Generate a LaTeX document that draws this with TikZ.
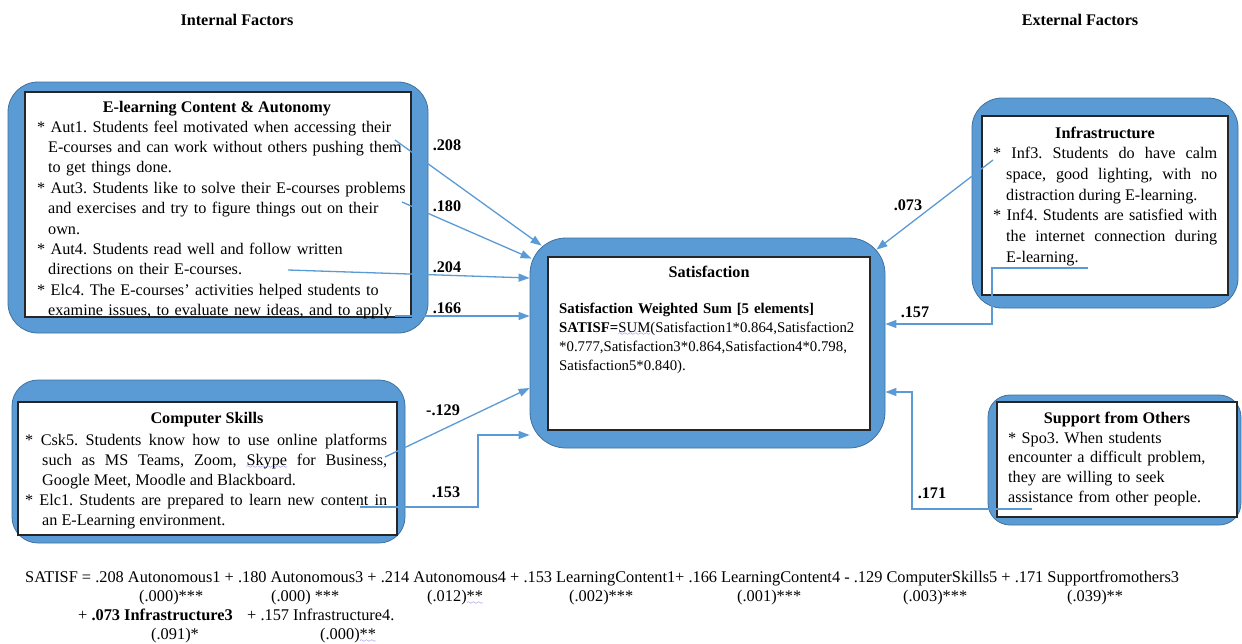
\documentclass[tikz,border=0pt]{standalone}
\usepackage{fontspec}
\setmainfont{Liberation Serif}
\usetikzlibrary{arrows.meta,positioning,calc}
\definecolor{boxblue}{HTML}{5B9BD5}
\definecolor{boxedge}{HTML}{41719C}
\definecolor{linkblue}{HTML}{5B9BD5}
\definecolor{squig}{HTML}{3A3AE0}
\frenchspacing

% item with hanging indent, wavy spell-check underline
\newcommand{\itm}[1]{\hangindent=#1\hangafter=1 *\ }
\font\wavyfont=lasy6
\newsavebox{\sqbox}
\newcommand{\sq}[1]{\sbox{\sqbox}{#1}\rlap{\lower3.5pt\hbox to\wd\sqbox{\color{squig}\xleaders\hbox{\wavyfont\char58}\hfil}}\usebox{\sqbox}}

\begin{document}
\begin{tikzpicture}[x=1pt,y=-1pt,
  outbox/.style={rectangle, rounded corners=#1, fill=boxblue, draw=boxedge, line width=0.8pt, inner sep=0pt},
  outbox/.default=30pt,
  inbox/.style={rectangle, fill=white, draw=black!85, line width=1.4pt, inner sep=0pt},
  head/.style={font=\fontsize{16.2}{20}\selectfont\bfseries, anchor=base, inner sep=0pt},
  body/.style={font=\fontsize{16.2}{#1}\selectfont, anchor=base west, inner sep=0pt, align=left},
  body/.default=20.5pt,
  wgt/.style={font=\fontsize{16.2}{20}\selectfont\bfseries, anchor=base, inner sep=0pt},
  link/.style={-{Triangle[length=11pt,width=8pt]}, line width=1.3pt, linkblue},
  eqn/.style={font=\fontsize{16.35}{19}\selectfont, anchor=base west, inner sep=0pt}
]
  \path[use as bounding box, fill=white] (0,0) rectangle (1242,643);

  \node[head] (intl) at (237,25) {Internal Factors};
  \node[head] (extl) at (1080,25) {External Factors};

  % boxes
  \node[outbox, minimum width=420pt, minimum height=251pt] (elc) at (218,207.5) {};
  \node[inbox, minimum width=386pt, minimum height=225pt] (elcIn) at (218,204.5) {};
  \node[outbox=36pt, minimum width=355pt, minimum height=210pt] (sat) at (707.5,343) {};
  \node[inbox, minimum width=322pt, minimum height=173pt] (satIn) at (709,343.5) {};
  \node[outbox, minimum width=266pt, minimum height=210pt] (inf) at (1105,203) {};
  \node[inbox, minimum width=246pt, minimum height=179pt] (infIn) at (1105,205.5) {};
  \node[outbox=26pt, minimum width=393pt, minimum height=163pt] (csk) at (208.5,461.5) {};
  \node[inbox, minimum width=379pt, minimum height=133pt] (cskIn) at (207.5,468.5) {};
  \node[outbox=22pt, minimum width=253pt, minimum height=130pt] (spo) at (1114.5,460) {};
  \node[inbox, minimum width=240pt, minimum height=115pt] (spoIn) at (1117,459.5) {};

  % titles
  \node[head] (elcHead) at (217,112) {E-learning Content \& Autonomy};
  \node[head] (satHead) at (709,277) {Satisfaction};
  \node[head] (infHead) at (1105,138) {Infrastructure};
  \node[head] (cskHead) at (207,423) {Computer Skills};
  \node[head] (spoHead) at (1117,423) {Support from Others};

  % texts
  \node[body=20.4pt, text width=372pt] (elcTxt) at (37,132) {%
    \itm{11pt}Aut1. Students feel motivated when accessing their\newline E-courses and can work without others pushing them\newline to get things done.\par
    \itm{11pt}Aut3. Students like to solve their E-courses problems\newline and exercises and try to figure things out on their\newline own.\par
    \itm{11pt}Aut4. Students read well and follow written\newline directions on their E-courses.\par
    \itm{11pt}Elc4. The E-courses’ activities helped students to\newline examine issues, to evaluate new ideas, and to apply\par};
  \node[body=19pt, font=\fontsize{14.8}{19}\selectfont, text width=320pt] (satTxt) at (559,313) {%
    \textbf{Satisfaction Weighted Sum [5 elements]}\newline
    \textbf{SATISF=}\sq{SUM}(Satisfaction1*0.864,Satisfaction2\newline
    *0.777,Satisfaction3*0.864,Satisfaction4*0.798,\newline
    Satisfaction5*0.840).\par};
  \node[body=20.8pt, text width=224pt, align=justify] (infTxt) at (993,158.5) {%
    \itm{13pt}Inf3. Students do have calm\linebreak space, good lighting, with no\linebreak distraction during E-learning.\par
    \itm{13pt}Inf4. Students are satisfied with\linebreak the internet connection during\linebreak E-learning.\par};
  \node[body=20pt, text width=362pt, align=justify] (cskTxt) at (25,445) {%
    \itm{17pt}Csk5. Students know how to use online platforms\linebreak such as MS Teams, Zoom, \sq{Skype} for Business,\linebreak Google Meet, Moodle and Blackboard.\par
    \itm{17pt}Elc1. Students are prepared to learn new content in\linebreak an E-Learning environment.\par};
  \node[body=19.7pt, text width=220pt] (spoTxt) at (1008,443) {%
    * Spo3. When students\newline encounter a difficult problem,\newline they are willing to seek\newline assistance from other people.\par};

  % connectors
  \coordinate (a1) at (395,140);
  \coordinate (a3) at (402,202);
  \coordinate (a4) at (288,270);
  \coordinate (e4) at (395,316);
  \coordinate (c5) at (385,457);
  \coordinate (e1) at (360,507);
  \coordinate (k153) at (478,435);
  \coordinate (i3) at (993,160);
  \coordinate (i4) at (1088,268);
  \coordinate (k157) at (992,324);
  \coordinate (s3) at (1032,509);
  \coordinate (k171) at (912,392);

  \draw[link] (a1) -- ($(sat.north west)+(12,8)$);
  \draw[link] (a3) -- ($(sat.north west)+(2,21)$);
  \draw[link] (a4) -- ($(sat.west)+(0,-65)$);
  \draw[link] (e4) -- (e4 -| sat.west);
  \draw[link] (c5) -- ($(sat.west)+(0,45)$);
  \draw[link] (e1) -| (k153) -- (k153 -| sat.west);
  \draw[link] (i3) -- ($(sat.north east)+(-9,12)$);
  \draw[link] (i4) -| (k157) -- (k157 -| sat.east);
  \draw[link] (s3) -| (k171) -- (k171 -| sat.east);

  \node[wgt] (w208) at (447,150.5) {.208};
  \node[wgt] (w180) at (447,211.5) {.180};
  \node[wgt] (w204) at (447,272.5) {.204};
  \node[wgt] (w166) at (447,313.5) {.166};
  \node[wgt] (w129) at (443,415.5) {-.129};
  \node[wgt] (w153) at (446,497.5) {.153};
  \node[wgt] (w073) at (908,210.5) {.073};
  \node[wgt] (w157) at (915,317.5) {.157};
  \node[wgt] (w171) at (932,498.5) {.171};

  % regression equation
  \node[eqn] (eq1) at (25,582) {SATISF = .208 Autonomous1 + .180 Autonomous3 + .214 Autonomous4 + .153 LearningContent1+ .166 LearningContent4 - .129 ComputerSkills5 + .171 Supportfromothers3};
  \node[eqn] (p1) at (139,601) {(.000)***};
  \node[eqn] (p2) at (271,601) {(.000) ***};
  \node[eqn] (p3) at (427,601) {(.012)\sq{**}};
  \node[eqn] (p4) at (569,601) {(.002)***};
  \node[eqn] (p5) at (737,601) {(.001)***};
  \node[eqn] (p6) at (903,601) {(.003)***};
  \node[eqn] (p7) at (1067,601) {(.039)**};
  \node[eqn] (eq3) at (78,620) {+ \textbf{.073 Infrastructure3}};
  \node[eqn] (eq3b) at (247,620) {+ .157 Infrastructure4.};
  \node[eqn] (p8) at (151,639) {(.091)*};
  \node[eqn] (p9) at (320,639) {(.000)\sq{**}};
\end{tikzpicture}
\end{document}
